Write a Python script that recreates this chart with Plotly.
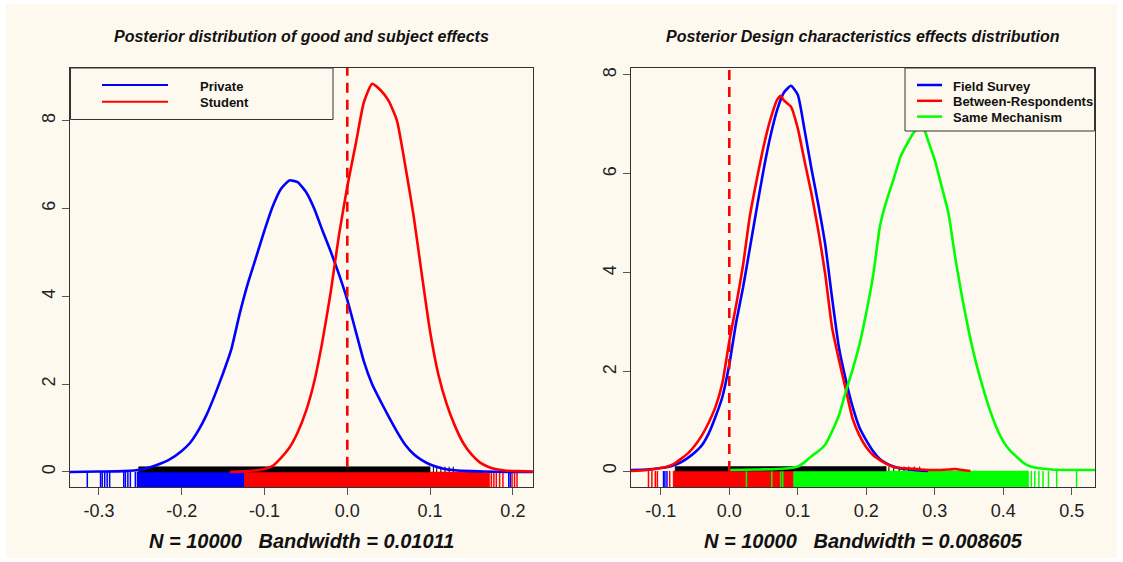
import plotly.graph_objects as go

# ---------------- data ----------------
# Left panel: densities
private_x = [-0.335, -0.30, -0.27, -0.25, -0.23, -0.215, -0.20, -0.19, -0.18, -0.17, -0.16, -0.15,
             -0.14, -0.13, -0.12, -0.11, -0.10, -0.09, -0.08, -0.07, -0.06, -0.05, -0.04, -0.03,
             -0.02, -0.01, 0.0, 0.01, 0.02, 0.03, 0.04, 0.05, 0.06, 0.07, 0.08, 0.09, 0.10, 0.115,
             0.13, 0.15, 0.18, 0.224]
private_y = [0.0, 0.01, 0.02, 0.05, 0.16, 0.28, 0.48, 0.66, 0.94, 1.3, 1.75, 2.25,
             2.8, 3.6, 4.3, 4.9, 5.5, 6.05, 6.45, 6.64, 6.6, 6.38, 6.0, 5.5,
             5.02, 4.5, 3.92, 3.22, 2.52, 2.0, 1.62, 1.26, 0.92, 0.62, 0.41, 0.27, 0.17, 0.08,
             0.04, 0.02, 0.005, 0.0]

student_x = [-0.142, -0.12, -0.11, -0.10, -0.09, -0.08, -0.07, -0.06, -0.05, -0.04, -0.03, -0.02,
             -0.01, 0.0, 0.01, 0.02, 0.03, 0.04, 0.05, 0.06, 0.07, 0.08, 0.09, 0.10, 0.11, 0.12,
             0.13, 0.14, 0.15, 0.16, 0.17, 0.18, 0.19, 0.205, 0.224]
student_y = [0.0, 0.02, 0.04, 0.07, 0.14, 0.32, 0.55, 0.9, 1.38, 2.05, 2.98, 4.1,
             5.4, 6.5, 7.45, 8.42, 8.84, 8.7, 8.45, 8.0, 6.98, 5.85, 4.5, 3.2, 2.22, 1.55,
             1.05, 0.66, 0.4, 0.22, 0.12, 0.06, 0.035, 0.02, 0.01]

# Right panel: densities
field_x = [-0.1435, -0.12, -0.10, -0.09, -0.08, -0.07, -0.06, -0.05, -0.04, -0.03, -0.02, -0.01,
           0.0, 0.01, 0.02, 0.03, 0.04, 0.05, 0.06, 0.07, 0.08, 0.09, 0.10, 0.11, 0.12, 0.13,
           0.14, 0.15, 0.16, 0.17, 0.18, 0.19, 0.20, 0.21, 0.22, 0.23, 0.24, 0.25, 0.27, 0.29]
field_y = [0.02, 0.03, 0.06, 0.08, 0.12, 0.18, 0.27, 0.38, 0.52, 0.76, 1.1, 1.5,
           2.15, 3.0, 3.7, 4.5, 5.3, 6.08, 6.76, 7.3, 7.65, 7.78, 7.6, 6.88, 6.1, 5.38,
           4.58, 3.5, 2.5, 1.85, 1.3, 0.88, 0.62, 0.4, 0.24, 0.15, 0.09, 0.05, 0.02, 0.0]

between_x = [-0.1435, -0.12, -0.10, -0.09, -0.08, -0.07, -0.06, -0.05, -0.04, -0.03, -0.02, -0.01,
             0.0, 0.01, 0.02, 0.03, 0.04, 0.05, 0.06, 0.07, 0.075, 0.08, 0.09, 0.10, 0.11, 0.12,
             0.13, 0.14, 0.15, 0.16, 0.17, 0.18, 0.19, 0.20, 0.21, 0.22, 0.23, 0.24, 0.25, 0.26,
             0.28, 0.30, 0.32, 0.33, 0.34, 0.352]
between_y = [0.0, 0.02, 0.06, 0.09, 0.15, 0.25, 0.36, 0.52, 0.72, 0.98, 1.3, 1.78,
             2.62, 3.35, 4.15, 5.15, 5.88, 6.55, 7.1, 7.5, 7.58, 7.48, 7.36, 6.92, 6.25, 5.6,
             4.85, 3.98, 2.9, 2.25, 1.65, 1.06, 0.72, 0.48, 0.32, 0.22, 0.14, 0.08, 0.06, 0.05,
             0.03, 0.02, 0.03, 0.04, 0.02, 0.0]

mechanism_x = [0.0, 0.04, 0.07, 0.09, 0.10, 0.11, 0.12, 0.13, 0.14, 0.15, 0.16, 0.17, 0.18, 0.19,
               0.20, 0.21, 0.22, 0.23, 0.24, 0.25, 0.26, 0.27, 0.278, 0.285, 0.29, 0.30, 0.31,
               0.32, 0.33, 0.34, 0.35, 0.36, 0.37, 0.38, 0.39, 0.40, 0.41, 0.42, 0.43, 0.44,
               0.45, 0.47, 0.50, 0.534]
mechanism_y = [0.02, 0.03, 0.04, 0.06, 0.09, 0.18, 0.3, 0.4, 0.53, 0.8, 1.12, 1.6, 2.05, 2.55,
               3.2, 3.95, 4.95, 5.48, 5.9, 6.35, 6.62, 6.85, 6.95, 6.88, 6.68, 6.28, 5.75,
               5.2, 4.3, 3.5, 2.8, 2.2, 1.7, 1.25, 0.88, 0.6, 0.41, 0.28, 0.16, 0.09,
               0.06, 0.03, 0.02, 0.02]

# Rug marks (dense stretches as [start, end], plus isolated ticks)
private_rug_dense = [-0.254, -0.124]
private_rug_ticks = [-0.314, -0.298, -0.296, -0.293, -0.290, -0.287, -0.270, -0.268,
                     -0.265, -0.262, -0.256, 0.195, 0.197]
student_rug_dense = [-0.124, 0.172]
student_rug_ticks = [0.174, 0.177, 0.180, 0.184, 0.188, 0.199, 0.202, 0.205]
left_black_dense = [-0.252, 0.100]
left_black_ticks = [0.104, 0.108, 0.113, 0.118, 0.123, 0.128]

field_rug_ticks = [-0.096, -0.094, -0.091, -0.080]
between_rug_dense = [-0.082, 0.094]
between_rug_ticks = [-0.118, -0.113, -0.108, -0.105, -0.087]
mechanism_rug_dense = [0.094, 0.437]
mechanism_rug_ticks = [0.025, 0.062, 0.075, 0.078, 0.441, 0.446, 0.452, 0.458, 0.466, 0.478, 0.507]
right_black_dense = [-0.079, 0.229]
right_black_ticks = [0.233, 0.240, 0.248, 0.255, 0.262, 0.270, 0.278]

ref_line_x = 0.0

left_xticks = [-0.3, -0.2, -0.1, 0.0, 0.1, 0.2]
right_xticks = [-0.1, 0.0, 0.1, 0.2, 0.3, 0.4, 0.5]
left_yticks = [0, 2, 4, 6, 8]
right_yticks = [0, 2, 4, 6, 8]

left_title = "Posterior distribution of good and subject effects"
right_title = "Posterior Design characteristics effects distribution"
left_xlabel = "N = 10000   Bandwidth = 0.01011"
right_xlabel = "N = 10000   Bandwidth = 0.008605"
left_legend = ["Private", "Student"]
right_legend = ["Field Survey", "Between-Respondents", "Same Mechanism"]

# ---------------- styling ----------------
W, H = 1123, 562
CREAM = "#FEF9EF"
BLUE, RED, GREEN = "#0000FF", "#FF0000", "#00FF00"
FONT = "Liberation Sans, Arial, sans-serif"

LX_RANGE = [-0.3349, 0.2243]
LY_RANGE = [-0.342, 9.2]
RX_RANGE = [-0.1435, 0.5339]
RY_RANGE = [-0.323, 8.14]


def fx(px):
    return px / W


def fy(py):
    return 1 - py / H


fig = go.Figure()


def add_curve(x, y, color, xa, ya):
    fig.add_trace(go.Scatter(x=x, y=y, mode="lines", xaxis=xa, yaxis=ya,
                             line=dict(color=color, width=2.6, shape="spline", smoothing=0.5),
                             hoverinfo="skip", showlegend=False))


def add_band(span, y0, y1, color, xa, ya):
    a, b = span
    fig.add_trace(go.Scatter(x=[a, b, b, a, a], y=[y0, y0, y1, y1, y0], mode="lines",
                             fill="toself", fillcolor=color, line=dict(color=color, width=0.5),
                             xaxis=xa, yaxis=ya, hoverinfo="skip", showlegend=False))


def add_ticks(vals, y0, y1, color, xa, ya, width=1.5):
    xs, ys = [], []
    for v in vals:
        xs += [v, v, None]
        ys += [y0, y1, None]
    fig.add_trace(go.Scatter(x=xs, y=ys, mode="lines", line=dict(color=color, width=width),
                             xaxis=xa, yaxis=ya, hoverinfo="skip", showlegend=False))


# ---- left panel ----
lb = LY_RANGE[0]
add_band(private_rug_dense, lb, 0, BLUE, "x", "y")
add_ticks(private_rug_ticks, lb, 0, BLUE, "x", "y")
add_band(student_rug_dense, lb, 0, RED, "x", "y")
add_ticks(student_rug_ticks, lb, 0, RED, "x", "y")
add_band(left_black_dense, 0, 0.12, "#000000", "x", "y")
add_ticks(left_black_ticks, 0, 0.12, "#000000", "x", "y", width=1)
add_curve(private_x, private_y, BLUE, "x", "y")
add_curve(student_x, student_y, RED, "x", "y")
fig.add_trace(go.Scatter(x=[ref_line_x, ref_line_x], y=[0.12, LY_RANGE[1]], mode="lines",
                         line=dict(color=RED, width=2.6, dash="10px,7px"),
                         xaxis="x", yaxis="y", hoverinfo="skip", showlegend=False))

# ---- right panel ----
rb = RY_RANGE[0]
add_ticks(field_rug_ticks, rb, 0, BLUE, "x2", "y2")
add_band(between_rug_dense, rb, 0, RED, "x2", "y2")
add_ticks(between_rug_ticks, rb, 0, RED, "x2", "y2")
add_band(mechanism_rug_dense, rb, 0, GREEN, "x2", "y2")
add_ticks(mechanism_rug_ticks, rb, 0, GREEN, "x2", "y2")
add_band(right_black_dense, 0, 0.09, "#000000", "x2", "y2")
add_ticks(right_black_ticks, 0, 0.09, "#000000", "x2", "y2", width=1)
add_curve(field_x, field_y, BLUE, "x2", "y2")
add_curve(between_x, between_y, RED, "x2", "y2")
add_curve(mechanism_x, mechanism_y, GREEN, "x2", "y2")
fig.add_trace(go.Scatter(x=[ref_line_x, ref_line_x], y=[0.0, RY_RANGE[1]], mode="lines",
                         line=dict(color=RED, width=2.6, dash="10px,7px"),
                         xaxis="x2", yaxis="y2", hoverinfo="skip", showlegend=False))

# ---------------- axes ----------------
common_x = dict(showgrid=False, zeroline=False, showline=True, mirror=True, linecolor="#333333",
                linewidth=1, ticks="outside", ticklen=7, tickwidth=1, tickcolor="#555555",
                tickfont=dict(family=FONT, size=18, color="#222222"), automargin=False,
                fixedrange=True)
common_y = dict(common_x, tickangle=-90)

y_dom = [fy(487), fy(68)]
fig.update_layout(
    xaxis=dict(common_x, domain=[fx(70), fx(533)], range=LX_RANGE, anchor="y",
               tickvals=left_xticks, ticktext=[f"{v:.1f}" for v in left_xticks]),
    yaxis=dict(common_y, domain=y_dom, range=LY_RANGE, anchor="x", tickvals=left_yticks),
    xaxis2=dict(common_x, domain=[fx(631), fx(1095)], range=RX_RANGE, anchor="y2",
                tickvals=right_xticks, ticktext=[f"{v:.1f}" for v in right_xticks]),
    yaxis2=dict(common_y, domain=y_dom, range=RY_RANGE, anchor="x2", tickvals=right_yticks),
)

# ---------------- background, legends, text ----------------
shapes = [dict(type="rect", xref="paper", yref="paper", x0=fx(6), x1=fx(1117), y0=fy(558), y1=fy(4),
               fillcolor=CREAM, line=dict(width=0), layer="below")]
annotations = []

# left legend
shapes.append(dict(type="rect", xref="paper", yref="paper", x0=fx(70.5), x1=fx(333), y0=fy(119.5),
                   y1=fy(68), fillcolor=CREAM, line=dict(color="#333333", width=1), layer="above"))
for i, (lab, col) in enumerate(zip(left_legend, [BLUE, RED])):
    yy = 85 + i * 16.7
    shapes.append(dict(type="line", xref="paper", yref="paper", x0=fx(102), x1=fx(168),
                       y0=fy(yy), y1=fy(yy), line=dict(color=col, width=2), layer="above"))
    annotations.append(dict(xref="paper", yref="paper", x=fx(197.5), y=fy(yy + 1), text=f"<b>{lab}</b>",
                            showarrow=False, xanchor="left", yanchor="middle",
                            font=dict(family=FONT, size=13, color="#111111")))

# right legend
shapes.append(dict(type="rect", xref="paper", yref="paper", x0=fx(905), x1=fx(1094.5), y0=fy(131),
                   y1=fy(68), fillcolor=CREAM, line=dict(color="#333333", width=1), layer="above"))
for i, (lab, col) in enumerate(zip(right_legend, [BLUE, RED, GREEN])):
    yy = 85 + i * 15.8
    shapes.append(dict(type="line", xref="paper", yref="paper", x0=fx(917), x1=fx(942),
                       y0=fy(yy), y1=fy(yy), line=dict(color=col, width=2.5), layer="above"))
    annotations.append(dict(xref="paper", yref="paper", x=fx(950.5), y=fy(yy + 1), text=f"<b>{lab}</b>",
                            showarrow=False, xanchor="left", yanchor="middle",
                            font=dict(family=FONT, size=13, color="#111111")))

# titles
for cx, t in [((70 + 533) / 2, left_title), ((631 + 1095) / 2, right_title)]:
    annotations.append(dict(xref="paper", yref="paper", x=fx(cx), y=fy(37), text=f"<b><i>{t}</i></b>",
                            showarrow=False, xanchor="center", yanchor="middle",
                            font=dict(family=FONT, size=16, color="#111111")))
# x labels
for cx, t in [((70 + 533) / 2, left_xlabel), ((631 + 1095) / 2, right_xlabel)]:
    t = t.replace(" ", "\u00a0")
    annotations.append(dict(xref="paper", yref="paper", x=fx(cx), y=fy(541), text=f"<b><i>{t}</i></b>",
                            showarrow=False, xanchor="center", yanchor="middle",
                            font=dict(family=FONT, size=20, color="#111111")))

fig.update_layout(
    width=W, height=H, margin=dict(l=0, r=0, t=0, b=0),
    paper_bgcolor="#FFFFFF", plot_bgcolor=CREAM,
    shapes=shapes, annotations=annotations, showlegend=False,
    font=dict(family=FONT),
)

fig.write_html("out.html", config={"displayModeBar": False})
